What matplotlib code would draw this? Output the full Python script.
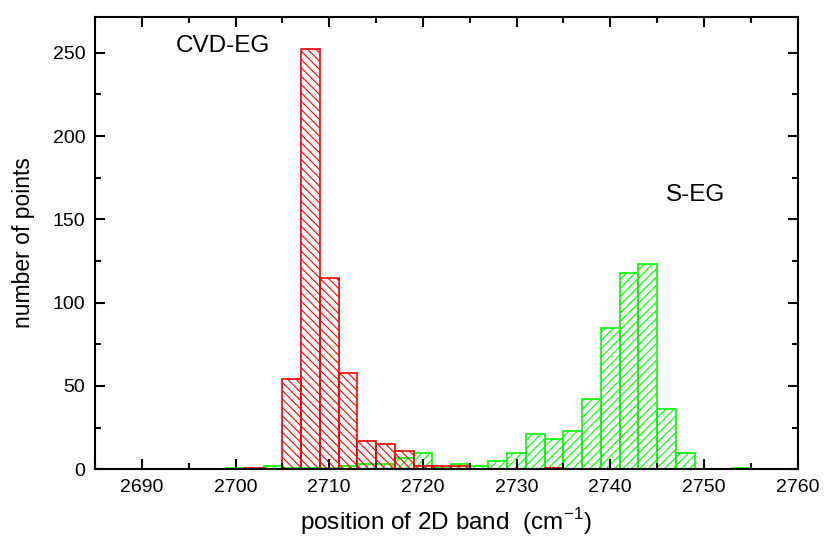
import numpy as np
import matplotlib
matplotlib.use('Agg')
import matplotlib.pyplot as plt
from matplotlib.ticker import MultipleLocator

plt.rcParams['font.family'] = ['Liberation Sans', 'DejaVu Sans']
plt.rcParams['mathtext.fontset'] = 'custom'
plt.rcParams['mathtext.rm'] = 'Liberation Sans'
plt.rcParams['hatch.linewidth'] = 0.8

# histogram of 2D band positions (bin width 2 cm^-1)
bin_width = 2
red_centers = [2702, 2706, 2708, 2710, 2712, 2714, 2716, 2718, 2720, 2722, 2724, 2734]
red_counts = [1, 54, 252, 115, 58, 17, 15, 11, 2, 2, 2, 1]

green_centers = [2700, 2704, 2706, 2708, 2710, 2712, 2714, 2716, 2718, 2720, 2722,
                 2724, 2726, 2728, 2730, 2732, 2734, 2736, 2738, 2740, 2742, 2744,
                 2746, 2748, 2754]
green_counts = [1, 2, 1, 1, 1, 2, 3, 3, 7, 10, 1,
                3, 2, 5, 10, 21, 18, 23, 42, 85, 118, 123,
                36, 10, 1]

fig = plt.figure(figsize=(8.24, 5.41), dpi=100)
ax = fig.add_axes([0.1153, 0.1325, 0.8527, 0.8366])

ax.bar(green_centers, green_counts, width=bin_width, fill=False,
       edgecolor='#00ff00', hatch='////', linewidth=1.2)
ax.bar(red_centers, red_counts, width=bin_width, fill=False,
       edgecolor='#ff0000', hatch='\\\\\\\\', linewidth=1.2)

ax.set_xlim(2685, 2760)
ax.set_ylim(0, 271.6)
ax.xaxis.set_major_locator(MultipleLocator(10))
ax.xaxis.set_minor_locator(MultipleLocator(5))
ax.yaxis.set_major_locator(MultipleLocator(50))
ax.yaxis.set_minor_locator(MultipleLocator(25))
ax.tick_params(which='both', direction='in', top=True, right=True, width=1.5,
               labelsize=14, pad=7)
ax.tick_params(which='major', length=7)
ax.tick_params(which='minor', length=4)
for s in ax.spines.values():
    s.set_linewidth(1.5)

ax.set_xlabel(r'position of 2D band  (cm$^{\mathrm{-1}}$)', fontsize=17.5, labelpad=7)
ax.set_ylabel('number of points', fontsize=16.5, labelpad=13)

ax.text(2693.6, 254, 'CVD-EG', fontsize=17.5, va='center', ha='left')
ax.text(2745.9, 164.6, 'S-EG', fontsize=17.5, va='center', ha='left')

fig.savefig('out.png', dpi=100)
